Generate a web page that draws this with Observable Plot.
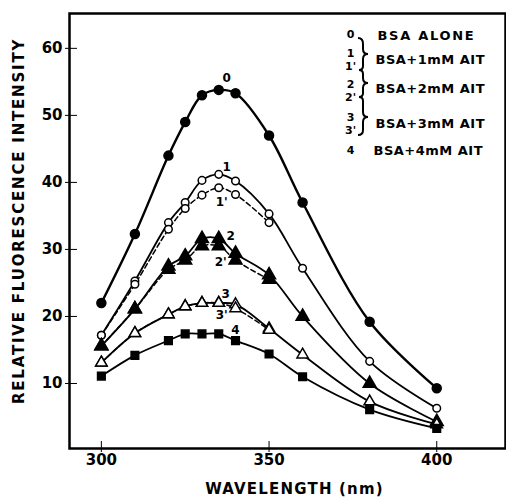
<!DOCTYPE html>
<html><head><meta charset="utf-8">
<script src="https://cdn.jsdelivr.net/npm/d3@7"></script>
<script src="https://cdn.jsdelivr.net/npm/@observablehq/plot@0.6"></script>
<style>body{margin:0;background:#fff} svg{display:block}</style>
</head><body><div id="chart"></div>
<script>
// ---- data ----
const wavelengths = [300, 310, 320, 325, 330, 335, 340, 350, 360, 380, 400];
const primedWavelengths = [300, 310, 320, 325, 330, 335, 340, 350];
const s0  = [22.0, 32.3, 44.0, 49.0, 53.0, 53.8, 53.3, 47.0, 37.0, 19.2, 9.3];
const s1  = [17.2, 25.3, 34.0, 37.0, 40.3, 41.2, 40.2, 35.3, 27.2, 13.3, 6.3];
const s1p = [17.2, 24.8, 33.0, 36.1, 38.1, 39.2, 38.2, 34.0];
const s2  = [15.6, 21.1, 27.5, 29.0, 31.6, 31.6, 29.4, 26.2, 20.0, 10.0, 4.3];
const s2p = [15.6, 21.1, 27.0, 28.4, 30.5, 30.5, 28.4, 25.5];
const s3  = [13.1, 17.5, 20.3, 21.5, 22.0, 22.0, 21.8, 18.2, 14.3, 7.3, 3.9];
const s3p = [13.1, 17.5, 20.3, 21.5, 22.0, 22.0, 21.2, 18.0];
const s4  = [11.1, 14.2, 16.4, 17.4, 17.4, 17.4, 16.4, 14.4, 11.0, 6.1, 3.3];
const seriesKeys = ["0", "1", "1'", "2", "2'", "3", "3'", "4"];
const legendKeys = ["0", "1", "1'", "2", "2'", "3", "3'", "4"];
const legendTexts = ["BSA ALONE", "BSA+1mM AIT", "BSA+2mM AIT", "BSA+3mM AIT", "BSA+4mM AIT"];
const xTicks = [300, 350, 400];
const yTicks = [10, 20, 30, 40, 50, 60];
const xTitle = "WAVELENGTH (nm)";
const yTitle = "RELATIVE FLUORESCENCE INTENSITY";

// ---- styles ----
const seriesDefs = [
  {key: seriesKeys[0], xs: wavelengths, ys: s0,  symbol: "circle",   fill: "black", r: 4.5, dash: null, sw: 2.4, li: 5, dx: 8, dy: -12},
  {key: seriesKeys[1], xs: wavelengths, ys: s1,  symbol: "circle",   fill: "white", r: 3.8, dash: null, sw: 1.8, li: 5, dx: 8, dy: -7},
  {key: seriesKeys[2], xs: primedWavelengths, ys: s1p, symbol: "circle", fill: "white", r: 3.8, dash: "5,3", sw: 1.5, li: 5, dx: 3, dy: 14},
  {key: seriesKeys[3], xs: wavelengths, ys: s2,  symbol: "triangle", fill: "black", r: 4.8, dash: null, sw: 1.8, li: 5, dx: 12, dy: -3},
  {key: seriesKeys[4], xs: primedWavelengths, ys: s2p, symbol: "triangle", fill: "black", r: 4.8, dash: "5,3", sw: 1.5, li: 5, dx: 2, dy: 16},
  {key: seriesKeys[5], xs: wavelengths, ys: s3,  symbol: "triangle", fill: "white", r: 4.2, dash: null, sw: 1.8, li: 5, dx: 7, dy: -9},
  {key: seriesKeys[6], xs: primedWavelengths, ys: s3p, symbol: "triangle", fill: "white", r: 4.2, dash: "5,3", sw: 1.5, li: 5, dx: 3, dy: 12},
  {key: seriesKeys[7], xs: wavelengths, ys: s4,  symbol: "square",   fill: "black", r: 4.3, dash: null, sw: 1.8, li: 6, dx: 0, dy: -10}
];

const font = "'DejaVu Sans', sans-serif";
const marks = [];

for (const s of seriesDefs) {
  const rows = s.xs.map((x, i) => ({x, y: s.ys[i], i, key: s.key}));
  marks.push(Plot.line(rows, {x: "x", y: "y", curve: "catmull-rom", stroke: "black",
    strokeWidth: s.sw, strokeDasharray: s.dash}));
}
for (const s of seriesDefs) {
  const rows = s.xs.map((x, i) => ({x, y: s.ys[i], i, key: s.key}));
  marks.push(Plot.dot(rows, {x: "x", y: "y", symbol: () => s.symbol, r: s.r, fill: s.fill,
    stroke: "black", strokeWidth: 1.5}));
  marks.push(Plot.text(rows.filter(d => d.i === s.li), {x: "x", y: "y", text: "key",
    dx: s.dx, dy: s.dy, fontSize: 12, fontWeight: "bold", fill: "black"}));
}

// frame and axes
marks.push(Plot.frame({stroke: "black", strokeWidth: 2.5}));
marks.push(Plot.axisX({ticks: xTicks, tickSize: 4, tickPadding: 2, fontSize: 15, fontWeight: "bold", label: null, tickFormat: d => d}));
marks.push(Plot.axisX({ticks: xTicks, tickSize: 7, dy: -7, tickFormat: () => "", label: null}));
marks.push(Plot.axisY({ticks: yTicks, tickSize: 4, tickPadding: 3, fontSize: 15, fontWeight: "bold", label: null}));
marks.push(Plot.axisY({ticks: yTicks, tickSize: 8, dx: 8, tickFormat: () => "", label: null}));

// axis titles
marks.push(Plot.text([xTitle], {frameAnchor: "bottom", textAnchor: "middle", dx: 7, dy: 45, fontSize: 15, fontWeight: "bold", text: d => d}));
marks.push(Plot.text([yTitle], {frameAnchor: "left", textAnchor: "middle", dx: -50, dy: -10, rotate: -90, fontSize: 15, fontWeight: "bold", text: d => d}));

// legend
const keyDy = [17, 36, 49, 67, 80, 100, 113, 133];
legendKeys.forEach((k, i) => {
  marks.push(Plot.text([k], {frameAnchor: "top-left", dx: 281, dy: keyDy[i], text: d => d, fontSize: 11, fontWeight: "bold", textAnchor: "middle"}));
});
const txtDx = [308, 306, 306, 306, 304];
const txtDy = [17, 41, 70, 105, 132];
legendTexts.forEach((t, i) => {
  marks.push(Plot.text([t], {frameAnchor: "top-left", dx: txtDx[i], dy: txtDy[i], text: d => d, fontSize: 13, fontWeight: "bold", textAnchor: "start"}));
});

const chart = Plot.plot({
  width: 506, height: 502,
  marginLeft: 69, marginRight: 1, marginTop: 13, marginBottom: 54,
  x: {domain: [290.5, 420.5]},
  y: {domain: [0.3, 65.2]},
  style: {fontFamily: font, color: "black", background: "white"},
  marks
});
// letter spacing for titles and legend
const spacing = new Map([[xTitle, "1.2px"], [yTitle, "1.8px"], [legendTexts[0], "1.7px"]]);
legendTexts.slice(1).forEach(t => spacing.set(t, "0.5px"));
d3.select(chart).selectAll("text").each(function () {
  const ls = spacing.get(this.textContent);
  if (ls) this.setAttribute("letter-spacing", ls);
});
// brace in legend
d3.select(chart).append("path")
  .attr("d", "M358,38 Q363,38 363,44 L363,49 Q363,54 368,54 Q363,54 363,59 L363,66 Q363,70 359,70 Q363,70 363,74 L363,78 Q363,83 368,83 Q363,83 363,88 L363,93 Q363,97 359,97 Q363,97 363,101 L363,112 Q363,117 368,117 Q363,117 363,122 L363,130 Q363,135 358,135")
  .attr("fill", "none").attr("stroke", "black").attr("stroke-width", 2);
document.getElementById("chart").append(chart);
</script>
</body></html>
